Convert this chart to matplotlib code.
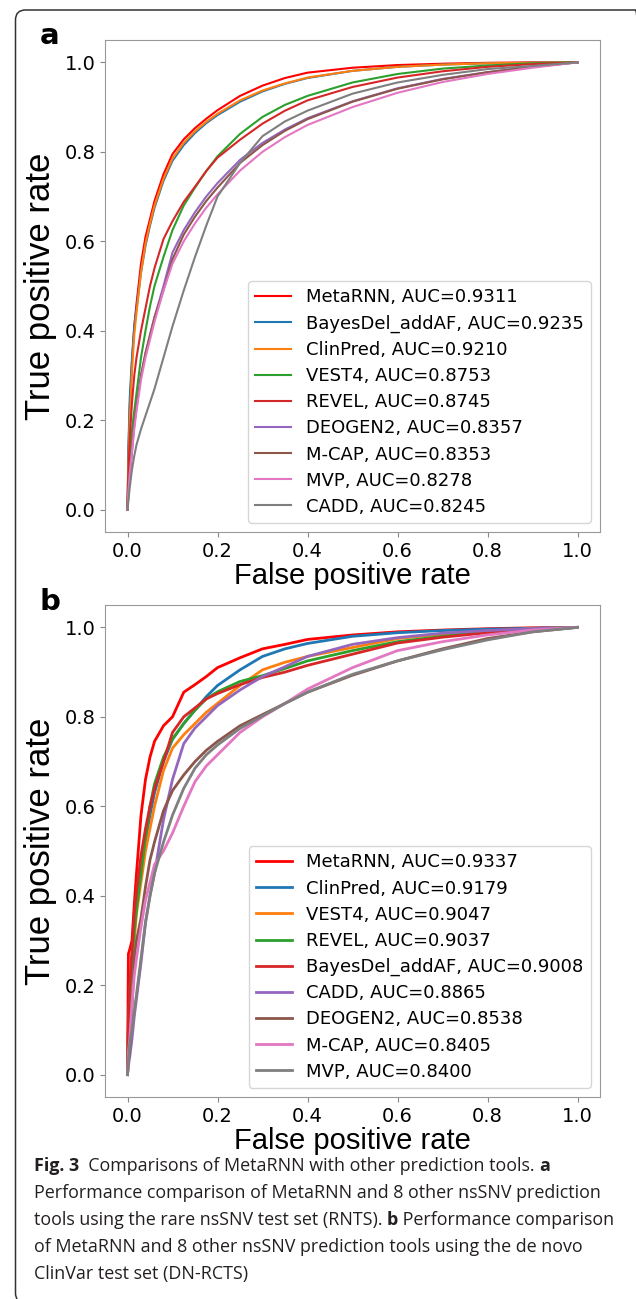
import matplotlib
matplotlib.use("Agg")
import matplotlib.pyplot as plt
from matplotlib.patches import FancyBboxPatch
from matplotlib.transforms import IdentityTransform

plt.rcParams['font.family'] = 'DejaVu Sans'

W, H = 636, 1299

# shared false positive rate grid
fpr = [0, 0.002, 0.005, 0.01, 0.015, 0.02, 0.03, 0.04, 0.05, 0.06, 0.08, 0.1, 0.125,
       0.15, 0.175, 0.2, 0.25, 0.3, 0.35, 0.4, 0.5, 0.6, 0.7, 0.8, 0.9, 1.0]

# panel a (RNTS)
a_names = ["MetaRNN", "BayesDel_addAF", "ClinPred", "VEST4", "REVEL",
           "DEOGEN2", "M-CAP", "MVP", "CADD"]
a_auc = ["0.9311", "0.9235", "0.9210", "0.8753", "0.8745",
         "0.8357", "0.8353", "0.8278", "0.8245"]
a_metarnn = [0, .12, .23, .33, .41, .46, .55, .61, .65, .69, .75, .795, .828,
             .853, .874, .893, .925, .948, .965, .977, .988, .994, .997, .999, 1, 1]
a_bayesdel = [0, .14, .25, .34, .41, .45, .53, .59, .635, .675, .735, .78, .815,
              .842, .864, .882, .912, .935, .952, .965, .981, .99, .995, .998, .999, 1]
a_clinpred = [0, .10, .20, .31, .39, .44, .53, .595, .64, .68, .74, .785, .82,
              .846, .867, .885, .915, .937, .953, .966, .981, .99, .995, .998, .999, 1]
a_vest4 = [0, .06, .12, .18, .22, .26, .34, .40, .455, .50, .565, .625, .68,
           .72, .757, .79, .84, .878, .905, .925, .955, .974, .986, .993, .998, 1]
a_revel = [0, .08, .16, .24, .30, .34, .40, .45, .50, .54, .605, .645, .688,
           .722, .757, .787, .827, .863, .892, .915, .945, .966, .98, .99, .996, 1]
a_deogen2 = [0, .03, .07, .13, .19, .23, .30, .35, .39, .43, .50, .575, .625,
             .665, .70, .73, .782, .82, .85, .875, .913, .942, .963, .978, .99, 1]
a_mcap = [0, .04, .08, .14, .19, .23, .30, .35, .39, .43, .49, .56, .615,
          .655, .69, .72, .775, .815, .847, .873, .912, .941, .962, .978, .99, 1]
a_mvp = [0, .04, .08, .13, .18, .22, .29, .34, .38, .42, .49, .55, .60,
         .64, .675, .705, .758, .80, .833, .86, .90, .932, .956, .974, .988, 1]
a_cadd = [0, .02, .05, .09, .12, .145, .18, .21, .24, .27, .34, .41, .49,
          .565, .635, .70, .775, .835, .868, .892, .93, .955, .972, .985, .992, 1]
a_tpr = [a_metarnn, a_bayesdel, a_clinpred, a_vest4, a_revel,
         a_deogen2, a_mcap, a_mvp, a_cadd]

# panel b (DN-RCTS)
b_names = ["MetaRNN", "ClinPred", "VEST4", "REVEL", "BayesDel_addAF",
           "CADD", "DEOGEN2", "M-CAP", "MVP"]
b_auc = ["0.9337", "0.9179", "0.9047", "0.9037", "0.9008",
         "0.8865", "0.8538", "0.8405", "0.8400"]
b_metarnn = [0, .27, .28, .30, .38, .45, .58, .66, .71, .745, .78, .80, .855,
             .872, .89, .91, .932, .952, .962, .973, .983, .99, .994, .997, .999, 1]
b_clinpred = [0, .10, .18, .26, .33, .38, .45, .52, .58, .63, .70, .75, .785,
              .815, .845, .87, .905, .935, .952, .964, .98, .988, .993, .996, .998, 1]
b_vest4 = [0, .09, .16, .24, .30, .36, .43, .50, .55, .60, .68, .73, .76,
           .785, .81, .83, .87, .905, .922, .935, .955, .975, .985, .992, .997, 1]
b_revel = [0, .10, .18, .26, .32, .37, .45, .53, .60, .65, .71, .75, .785,
           .815, .84, .856, .879, .892, .908, .925, .948, .968, .98, .99, .996, 1]
b_bayesdel = [0, .12, .20, .28, .36, .41, .49, .55, .60, .64, .70, .765, .80,
              .82, .84, .852, .872, .888, .90, .915, .94, .965, .978, .988, .995, 1]
b_cadd = [0, .02, .04, .08, .13, .17, .25, .34, .40, .45, .57, .66, .74,
          .775, .80, .825, .86, .89, .912, .935, .962, .977, .987, .993, .997, 1]
b_deogen2 = [0, .03, .06, .15, .26, .30, .35, .42, .48, .52, .59, .635, .67,
             .70, .725, .745, .78, .805, .83, .855, .893, .925, .952, .975, .99, 1]
b_mcap = [0, .05, .08, .16, .22, .26, .33, .39, .43, .47, .50, .54, .60,
          .655, .69, .715, .765, .80, .83, .862, .91, .948, .968, .983, .994, 1]
b_mvp = [0, .03, .07, .10, .14, .18, .26, .34, .40, .45, .52, .58, .64,
         .685, .715, .737, .774, .802, .83, .855, .895, .925, .95, .972, .99, 1]
b_tpr = [b_metarnn, b_clinpred, b_vest4, b_revel, b_bayesdel,
         b_cadd, b_deogen2, b_mcap, b_mvp]

a_colors = ["red", "tab:blue", "tab:orange", "tab:green", "tab:red",
            "tab:purple", "tab:brown", "tab:pink", "tab:gray"]
b_colors = a_colors

fig = plt.figure(figsize=(W / 100, H / 100), dpi=100)


def px_axes(left, top, right, bottom):
    return fig.add_axes([left / W, 1 - bottom / H, (right - left) / W, (bottom - top) / H])


def roc_panel(ax, names, aucs, tprs, colors, lw):
    for name, auc, tpr, c in zip(names, aucs, tprs, colors):
        ax.plot(fpr, tpr, color=c, lw=lw, label=f"{name}, AUC={auc}")
    ax.set_xticks([0, 0.2, 0.4, 0.6, 0.8, 1.0])
    ax.set_yticks([0, 0.2, 0.4, 0.6, 0.8, 1.0])
    ax.tick_params(labelsize=14, color="#888888")
    for s in ax.spines.values():
        s.set_color("#999999")
    ax.set_xlabel("False positive rate", fontsize=21, family="Liberation Sans", labelpad=1)
    ax.set_ylabel("True positive rate", fontsize=25, family="Liberation Sans")
    ax.yaxis.set_label_coords(-0.097, 0.5)
    ax.legend(loc="lower right", fontsize=13, labelspacing=0.45)


ax1 = px_axes(105, 40, 600, 532)
roc_panel(ax1, a_names, a_auc, a_tpr, a_colors, 1.5)
ax2 = px_axes(105, 605, 600, 1097)
roc_panel(ax2, b_names, b_auc, b_tpr, b_colors, 2.0)

fig.text(40 / W, 1 - 44 / H, "a", fontsize=21, fontweight="bold")
fig.text(40 / W, 1 - 610 / H, "b", fontsize=21, fontweight="bold")

# outer frame, right and bottom edges run just past the picture
frame = FancyBboxPatch((15.5, -4), 630, 1293, boxstyle="round,pad=0,rounding_size=10",
                       transform=IdentityTransform(), fill=False, ec="#333333", lw=1.1)
fig.patches.append(frame)

# caption
cap_font = "Open Sans"
cap_size = 12.9
cap_lines = [
    [("Fig. 3", "bold"), ("  Comparisons of MetaRNN with other prediction tools. ", "normal"), ("a", "bold")],
    [("Performance comparison of MetaRNN and 8 other nsSNV prediction", "normal")],
    [("tools using the rare nsSNV test set (RNTS). ", "normal"), ("b", "bold"), (" Performance comparison", "normal")],
    [("of MetaRNN and 8 other nsSNV prediction tools using the de novo", "normal")],
    [("ClinVar test set (DN-RCTS)", "normal")],
]
renderer = fig.canvas.get_renderer()
y0 = 1171
for i, line in enumerate(cap_lines):
    x = 34
    y = y0 + i * 27
    for txt, wt in line:
        t = fig.text(x / W, 1 - y / H, txt, fontsize=cap_size, fontweight=wt,
                     family=cap_font, color="#231f20", va="baseline")
        x += t.get_window_extent(renderer).width

fig.savefig("out.png", dpi=100)
